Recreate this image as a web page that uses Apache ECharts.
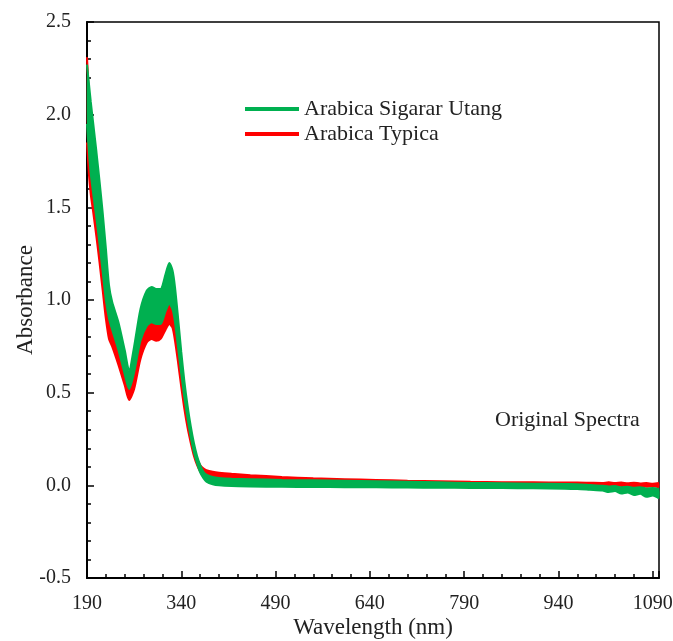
<!DOCTYPE html>
<html>
<head>
<meta charset="utf-8">
<script src="https://cdn.jsdelivr.net/npm/echarts@6/dist/echarts.min.js"></script>
<style>
  html, body { margin: 0; padding: 0; background: #fff; }
  #chart { width: 673px; height: 641px; }
</style>
</head>
<body>
<div id="chart"></div>
<script>
// wavelength grid (nm)
var wavelengths = [190,193,196,200,205,210,215,220,225,230,240,250,257,265,275,285,293,300,307,315,321,326,330,335,340,345,350,355,360,365,370,375,380,390,400,420,450,500,550,600,650,700,750,800,850,900,950,970,990,1010,1020,1030,1040,1050,1060,1070,1080,1090,1100];

// Arabica Sigarar Utang - upper / lower edge of the spectra bundle
var utangUpper = [2.27,2.17,2.07,1.95,1.80,1.64,1.47,1.28,1.08,0.99,0.88,0.73,0.62,0.75,0.95,1.05,1.07,1.06,1.06,1.14,1.20,1.16,1.07,0.90,0.72,0.56,0.43,0.32,0.23,0.16,0.11,0.075,0.058,0.045,0.040,0.036,0.033,0.029,0.027,0.025,0.022,0.019,0.016,0.013,0.011,0.009,0.007,0.006,0.002,-0.002,-0.006,-0.004,-0.010,-0.007,-0.013,-0.010,-0.017,-0.014,-0.020];
var utangLower = [1.95,1.80,1.68,1.57,1.44,1.30,1.15,1.00,0.90,0.84,0.73,0.60,0.52,0.61,0.78,0.86,0.88,0.87,0.87,0.94,0.98,0.95,0.88,0.74,0.60,0.47,0.36,0.26,0.18,0.12,0.07,0.04,0.02,0.006,0.000,-0.004,-0.006,-0.008,-0.009,-0.010,-0.011,-0.012,-0.013,-0.014,-0.015,-0.016,-0.018,-0.020,-0.024,-0.028,-0.036,-0.031,-0.044,-0.038,-0.052,-0.046,-0.062,-0.055,-0.070];

// Arabica Typica - upper / lower edge of the spectra bundle
var typicaUpper = [2.31,2.12,1.98,1.85,1.68,1.50,1.32,1.12,0.95,0.87,0.75,0.61,0.51,0.59,0.76,0.87,0.91,0.90,0.90,0.95,0.975,0.95,0.88,0.75,0.60,0.47,0.36,0.27,0.20,0.145,0.11,0.092,0.082,0.073,0.068,0.062,0.055,0.045,0.038,0.033,0.029,0.025,0.022,0.019,0.017,0.016,0.015,0.015,0.014,0.013,0.016,0.012,0.015,0.011,0.014,0.010,0.013,0.008,0.012];
var typicaLower = [1.85,1.68,1.57,1.47,1.34,1.20,1.05,0.90,0.79,0.75,0.65,0.54,0.46,0.52,0.68,0.77,0.79,0.78,0.79,0.84,0.87,0.85,0.78,0.66,0.53,0.41,0.31,0.23,0.16,0.11,0.075,0.055,0.045,0.037,0.033,0.029,0.025,0.021,0.018,0.015,0.013,0.011,0.009,0.008,0.007,0.006,0.004,0.003,0.002,0.000,-0.002,0.001,-0.004,-0.001,-0.006,-0.003,-0.008,-0.005,-0.010];

var legendNames = ['Arabica Sigarar Utang', 'Arabica Typica'];
var green = '#00B050';
var red = '#FF0000';
var serif = '"Liberation Serif", "Times New Roman", serif';

function pairs(ys) {
  return wavelengths.map(function (w, i) { return [w, ys[i]]; });
}

function band(name, upper, lower, color, z) {
  return {
    name: name,
    type: 'custom',
    z: z,
    silent: true,
    data: [[wavelengths[0], upper[0]]],
    encode: { x: 0, y: 1 },
    renderItem: function (params, api) {
      var top = wavelengths.map(function (w, i) { return api.coord([w, upper[i]]); });
      var bottom = wavelengths.map(function (w, i) { return api.coord([w, lower[i]]); }).reverse();
      return {
        type: 'polygon',
        shape: { points: top.concat(bottom), smooth: 0.25 },
        style: { fill: color }
      };
    }
  };
}

function edge(name, ys, color, z) {
  return {
    name: name,
    type: 'line',
    z: z,
    data: pairs(ys),
    smooth: 0.25,
    showSymbol: false,
    silent: true,
    lineStyle: { color: color, width: 2 },
    itemStyle: { color: color }
  };
}

var chart = echarts.init(document.getElementById('chart'));
chart.setOption({
  animation: false,
  backgroundColor: '#fff',
  grid: {
    left: 87, right: 14, top: 22, bottom: 63,
    outerBoundsMode: 'none',
    containLabel: false,
    show: true, borderColor: '#000', borderWidth: 1.5, backgroundColor: 'transparent'
  },
  legend: {
    data: legendNames,
    orient: 'vertical',
    left: 240,
    top: 93,
    icon: 'rect',
    itemWidth: 54,
    itemHeight: 4,
    itemGap: 3,
    itemTextGap: 10,
    textStyle: { fontFamily: serif, fontSize: 22, color: '#222', lineHeight: 22 }
  },
  xAxis: {
    type: 'value',
    min: 190,
    max: 1100,
    interval: 150,
    name: 'Wavelength (nm)',
    nameLocation: 'middle',
    nameGap: 38,
    nameMoveOverlap: false,
    nameTextStyle: { fontFamily: serif, fontSize: 23, color: '#222' },
    axisLine: { show: true, onZero: false, lineStyle: { color: '#000', width: 2 } },
    axisTick: { inside: true, length: 7, lineStyle: { color: '#000', width: 1.5 } },
    minorTick: { show: true, splitNumber: 5, length: 4, lineStyle: { color: '#000', width: 1.5 } },
    splitLine: { show: false },
    axisLabel: {
      margin: 16,
      fontFamily: serif, fontSize: 20, color: '#222',
      showMaxLabel: false,
      formatter: function (v) { return v === 1100 ? '' : String(v); }
    }
  },
  yAxis: {
    type: 'value',
    min: -0.5,
    max: 2.5,
    interval: 0.5,
    name: 'Absorbance',
    nameLocation: 'middle',
    nameGap: 50,
    nameMoveOverlap: false,
    nameTextStyle: { fontFamily: serif, fontSize: 23, color: '#222' },
    axisLine: { show: true, onZero: false, lineStyle: { color: '#000', width: 2 } },
    axisTick: { inside: true, length: 7, lineStyle: { color: '#000', width: 1.5 } },
    minorTick: { show: true, splitNumber: 5, length: 4, lineStyle: { color: '#000', width: 1.5 } },
    splitLine: { show: false },
    axisLabel: {
      margin: 16,
      fontFamily: serif, fontSize: 20, color: '#222',
      formatter: function (v) { return v.toFixed(1); }
    }
  },
  graphic: [{
    type: 'text',
    left: 495,
    top: 409,
    style: { text: 'Original Spectra', font: '22px ' + serif, fill: '#222' }
  }],
  series: [
    band('typicaBand', typicaUpper, typicaLower, red, 2),
    edge('Arabica Typica', typicaUpper, red, 2),
    edge('typicaLow', typicaLower, red, 2),
    band('utangBand', utangUpper, utangLower, green, 3),
    edge('Arabica Sigarar Utang', utangUpper, green, 3),
    edge('utangLow', utangLower, green, 3)
  ]
});
</script>
</body>
</html>
